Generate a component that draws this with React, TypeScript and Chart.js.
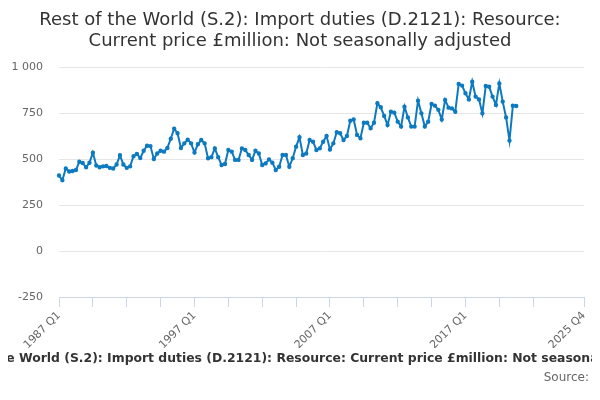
import Chart from "chart.js/auto";
import { useEffect, useRef } from "react";

// 1987 Q1 .. 2025 Q4
const startYear = 1987;
const endYear = 2025;
const quarterLabels: string[] = [];
for (let y = startYear; y <= endYear; y++) {
  for (let q = 1; q <= 4; q++) quarterLabels.push(`${y} Q${q}`);
}

// £million, 1987 Q1 .. 2020 Q4
const duties1987to1997 = [
  410, 385, 449, 432, 435, 440, 485, 478, 455, 480, 534, 465, 455, 460, 462, 452,
  448, 470, 520, 470, 452, 460, 515, 528, 505, 545, 572, 570, 500, 530, 545, 540,
  560, 610, 665, 640, 560, 585, 605, 585,
];
const duties1997to2007 = [
  535, 580, 603, 585, 504, 510, 558, 510, 467, 473, 549, 540, 495, 495, 558, 549,
  522, 495, 545, 530, 467, 476, 498, 480, 440, 458, 522, 522, 458, 504, 567, 618,
  522, 530, 603, 594, 549, 558, 594, 625,
];
const duties2007to2020 = [
  552, 585, 645, 640, 603, 625, 708, 715, 631, 613, 697, 697, 667, 697, 803, 781,
  734, 685, 757, 752, 703, 676, 784, 726, 676, 676, 817, 748, 676, 703, 799, 790,
  767, 715, 821, 779, 775, 757, 908, 899, 857, 824, 920, 839, 824, 748, 897, 893,
  839, 794, 911, 812, 726, 600, 790, 788,
];

const importDuties: (number | null)[] = [
  ...duties1987to1997,
  ...duties1997to2007,
  ...duties2007to2020,
];
while (importDuties.length < quarterLabels.length) importDuties.push(null);

const shownLabels = ["1987 Q1", "1997 Q1", "2007 Q1", "2017 Q1", "2025 Q4"];
const yTicks = [-250, 0, 250, 500, 750, 1000];

const titleLines = [
  "Rest of the World (S.2): Import duties (D.2121): Resource:",
  "Current price £million: Not seasonally adjusted",
];
const captionText = titleLines.join(" ");
const fontFamily = "'DejaVu Sans', sans-serif";

// title, caption and source drawn straight on the canvas
const textPlugin = {
  id: "pageText",
  afterDraw(chart: Chart) {
    const ctx = chart.ctx;
    const mid = chart.width / 2;
    ctx.save();
    ctx.textBaseline = "alphabetic";
    ctx.textAlign = "center";
    ctx.fillStyle = "#333333";
    ctx.font = `18px ${fontFamily}`;
    ctx.fillText(titleLines[0], mid, 25);
    ctx.fillText(titleLines[1], mid, 45.5);
    ctx.font = `bold 12.4px ${fontFamily}`;
    ctx.fillText(captionText, mid + 9, 362);
    ctx.font = `12px ${fontFamily}`;
    ctx.fillStyle = "#666666";
    ctx.textAlign = "right";
    ctx.fillText("Source:", chart.width - 11, 381);
    ctx.restore();
  },
};

export default function App() {
  const canvasRef = useRef<HTMLCanvasElement | null>(null);
  const chartRef = useRef<Chart | null>(null);

  useEffect(() => {
    if (!canvasRef.current) return;
    chartRef.current?.destroy();

    const lastIndex = quarterLabels.length - 1;

    chartRef.current = new Chart(canvasRef.current, {
      type: "line",
      data: {
        labels: quarterLabels,
        datasets: [
          {
            data: importDuties,
            borderColor: "#0d7ac0",
            backgroundColor: "#0d7ac0",
            borderWidth: 2,
            pointRadius: 1.2,
            pointHoverRadius: 3,
            tension: 0,
            spanGaps: false,
          },
        ],
      },
      options: {
        animation: false,
        responsive: false,
        layout: { padding: { left: 0, right: 16, top: 67, bottom: 52 } },
        plugins: {
          legend: { display: false },
          tooltip: { enabled: false },
          title: { display: false },
        },
        scales: {
          x: {
            type: "category",
            offset: false,
            afterFit: (scale: any) => {
              scale.height = 51;
            },
            border: { display: true, color: "#ccd6eb", width: 1 },
            grid: {
              drawOnChartArea: false,
              drawTicks: true,
              tickLength: 10,
              tickColor: (ctx: any) =>
                (ctx.index % 10 === 0 && ctx.index <= 140) || ctx.index === lastIndex
                  ? "#ccd6eb"
                  : "rgba(0,0,0,0)",
            },
            ticks: {
              autoSkip: false,
              minRotation: 45,
              maxRotation: 45,
              color: "#666666",
              font: { family: fontFamily, size: 11 },
              padding: 2,
              callback: (_v: any, i: number) =>
                shownLabels.includes(quarterLabels[i]) ? quarterLabels[i] : "",
            },
          },
          y: {
            min: yTicks[0],
            max: yTicks[yTicks.length - 1],
            afterBuildTicks: (scale: any) => {
              scale.ticks = yTicks.map((v) => ({ value: v }));
            },
            afterFit: (scale: any) => {
              scale.width = 59;
            },
            border: { display: false },
            grid: { color: "#e6e6e6", drawTicks: false },
            ticks: {
              color: "#666666",
              font: { family: fontFamily, size: 11 },
              padding: 16,
              callback: (v: any) => String(v).replace(/\B(?=(\d{3})+(?!\d))/g, " "),
            },
          },
        },
      },
      plugins: [textPlugin],
    });

    return () => {
      chartRef.current?.destroy();
      chartRef.current = null;
    };
  }, []);

  return (
    <div style={{ margin: -8, width: 600, height: 400, background: "#fff" }}>
      <canvas ref={canvasRef} width={600} height={400} />
    </div>
  );
}
